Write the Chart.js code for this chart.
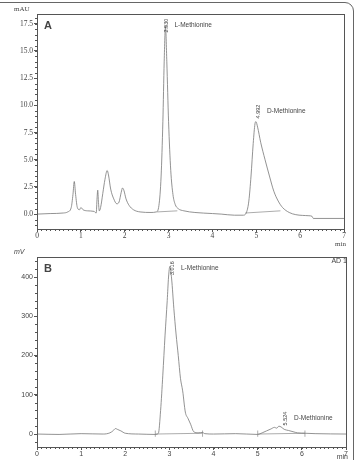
<!DOCTYPE html>
<html>
<head>
<meta charset="utf-8">
<script src="https://cdn.jsdelivr.net/npm/chart.js@4.4.0/dist/chart.umd.min.js"></script>
<style>
body { margin: 0; background: #fff; width: 356px; height: 460px; overflow: hidden; position: relative; }
#frame { position: absolute; left: -12px; top: 2px; width: 366px; height: 470px; border: 1px solid #666; border-radius: 9px; box-sizing: border-box; }
#wrapA { position: absolute; left: 0; top: 0; }
#wrapB { position: absolute; left: 0; top: 248px; }
</style>
</head>
<body>
<div id="frame"></div>
<div id="wrapA"><canvas id="chartA" width="356" height="250"></canvas></div>
<div id="wrapB"><canvas id="chartB" width="356" height="212"></canvas></div>
<script>
// panel A - UV trace (mAU)
var timeA = [0, 0.3, 0.6, 0.7, 0.78, 0.82, 0.85, 0.88, 0.92, 0.97, 1.0, 1.05, 1.15, 1.3, 1.35, 1.37, 1.385, 1.4, 1.42, 1.45,
  1.5, 1.55, 1.6, 1.63, 1.68, 1.75, 1.82, 1.87, 1.92, 1.95, 1.98, 2.03, 2.1, 2.2, 2.35, 2.6, 2.72, 2.78, 2.83, 2.87,
  2.9, 2.93, 2.96, 3.0, 3.05, 3.1, 3.15, 3.22, 3.35, 3.6, 4.0, 4.2, 4.5, 4.7, 4.78, 4.83, 4.88, 4.93, 4.97, 4.99,
  5.03, 5.1, 5.2, 5.3, 5.4, 5.5, 5.6, 5.75, 5.9, 6.2, 6.27, 6.3, 7.0];
var signalA = [0, 0.05, 0.1, 0.2, 0.6, 1.8, 3.0, 1.8, 0.6, 0.4, 0.6, 0.4, 0.3, 0.25, 0.1, 1.5, 2.2, 1.2, 0.3, 0.6,
  1.9, 3.2, 4.0, 3.6, 2.3, 1.4, 0.95, 1.1, 2.0, 2.4, 2.2, 1.4, 0.8, 0.4, 0.2, 0.15, 0.2, 0.8, 3.5, 8.5,
  14, 17.3, 14, 8.5, 4.0, 1.8, 0.9, 0.5, 0.3, 0.15, 0.05, 0, -0.1, -0.1, 0.2, 1.2, 3.5, 6.5, 8.3, 8.5,
  8.0, 6.6, 5.0, 3.5, 2.1, 1.2, 0.6, 0.15, -0.05, -0.15, -0.2, -0.4, -0.4];
var baseA1 = [[2.74, 0.2], [3.2, 0.3]];
var baseA2 = [[4.75, 0.1], [5.55, 0.3]];
var yTicksA = [0, 2.5, 5, 7.5, 10, 12.5, 15, 17.5];
var peaksA = [
  { t: 2.95, v: 16.7, rt: '2.930', name: 'L-Methionine' },
  { t: 5.06, v: 8.8, rt: '4.992', name: 'D-Methionine' }
];

// panel B - detector trace (mV)
var timeB = [0, 0.5, 1.0, 1.5, 1.65, 1.72, 1.78, 1.82, 1.9, 2.0, 2.3, 2.68, 2.75, 2.8, 2.85, 2.9, 2.95, 2.98, 3.01, 3.05,
  3.1, 3.15, 3.2, 3.25, 3.3, 3.36, 3.42, 3.48, 3.55, 3.65, 3.75, 3.8, 4.0, 4.5, 5.0, 5.1, 5.2, 5.3, 5.38, 5.43,
  5.48, 5.53, 5.6, 5.7, 5.8, 5.9, 6.07, 6.3, 7.0];
var signalB = [0, -1, 1, 0, 3, 8, 14, 12, 8, 2, 0, -1, 2, 60, 150, 250, 340, 400, 427, 395,
  320, 255, 200, 142, 110, 56, 40, 25, 6, 3, 4, 1, 0, 1, -1, 3, 8, 13, 17, 15,
  20, 18, 12, 9, 6, 3, 2, 1, 0];
var baseB1 = [[2.68, 0], [3.75, 2]];
var baseB2 = [[5.0, 0], [6.07, 2]];
var marksB = [2.68, 3.75, 5.0, 6.07];
var yTicksB = [0, 100, 200, 300, 400];
var peaksB = [
  { t: 3.08, v: 405, rt: '3.016', name: 'L-Methionine' },
  { t: 5.64, v: 22, rt: '5.524', name: 'D-Methionine' }
];

function pairs(xs, ys) { return xs.map(function (x, i) { return { x: x, y: ys[i] }; }); }
function seg(p) { return p.map(function (q) { return { x: q[0], y: q[1] }; }); }

var decor = {
  id: 'decor',
  afterDraw: function (chart, args, o) {
    var c = chart.ctx, a = chart.chartArea, xs = chart.scales.x, ys = chart.scales.y;
    c.save();
    c.strokeStyle = '#555';
    c.lineWidth = 1;
    c.strokeRect(Math.round(a.left) + 0.5, Math.round(a.top) + 0.5, Math.round(a.right - a.left), Math.round(a.bottom - a.top));
    // minor ticks
    c.beginPath();
    for (var k = Math.ceil(xs.min / o.xMinor); k * o.xMinor <= xs.max + 1e-9; k++) {
      var v = k * o.xMinor, px = Math.round(xs.getPixelForValue(v)) + 0.5;
      c.moveTo(px, a.bottom); c.lineTo(px, a.bottom + 2);
    }
    for (var j = Math.ceil(ys.min / o.yMinor); j * o.yMinor <= ys.max + 1e-9; j++) {
      var w = j * o.yMinor, py = Math.round(ys.getPixelForValue(w)) + 0.5;
      c.moveTo(a.left, py); c.lineTo(a.left - 2, py);
    }
    c.stroke();
    c.fillStyle = '#444';
    // units
    c.font = o.unitFont;
    c.textAlign = 'left'; c.textBaseline = 'middle';
    c.fillText(o.unit, 14, a.top - 5);
    c.font = o.tickFont;
    c.textAlign = 'right';
    c.fillText('min', a.right + 2, a.bottom + o.minDy);
    // panel letter
    c.font = 'bold 11px "Liberation Sans", Arial, sans-serif';
    c.textAlign = 'left';
    c.fillText(o.letter, a.left + 7, a.top + 12);
    if (o.corner) {
      c.font = '7px "Liberation Sans", Arial, sans-serif';
      c.textAlign = 'right';
      c.fillText(o.corner, a.right + 1, a.top + 4);
    }
    // peak labels
    o.peaks.forEach(function (p) {
      var px = xs.getPixelForValue(p.t), py = ys.getPixelForValue(p.v);
      c.save();
      c.translate(px, py);
      c.rotate(-Math.PI / 2);
      c.font = '5.5px "Liberation Sans", Arial, sans-serif';
      c.textAlign = 'left'; c.textBaseline = 'middle';
      c.fillText(p.rt, 0, 0);
      c.restore();
      c.font = '6.5px "Liberation Sans", Arial, sans-serif';
      c.textAlign = 'left'; c.textBaseline = 'middle';
      c.fillText(p.name, px + 8, py - 7);
    });
    c.restore();
  }
};

function makePanel(id, datasets, cfg) {
  return new Chart(document.getElementById(id), {
    type: 'line',
    data: { datasets: datasets },
    plugins: [decor],
    options: {
      responsive: false,
      animation: false,
      events: [],
      layout: { padding: { top: cfg.padTop, right: cfg.padRight, left: 0, bottom: 0 } },
      elements: { point: { radius: 0 }, line: { borderWidth: 0.8, borderColor: '#777' } },
      plugins: { legend: { display: false }, tooltip: { enabled: false }, decor: cfg.decor },
      scales: {
        x: {
          type: 'linear', min: 0, max: 7,
          afterFit: function (s) { s.height = cfg.xHeight; },
          border: { color: '#555' },
          grid: { drawOnChartArea: false, tickLength: 3, color: '#555' },
          ticks: { stepSize: 1, padding: 0, color: '#444', font: cfg.tickFontObj, maxRotation: 0 }
        },
        y: {
          min: cfg.yMin, max: cfg.yMax,
          afterFit: function (s) { s.width = 37; },
          afterBuildTicks: function (s) { s.ticks = cfg.yTicks.map(function (v) { return { value: v }; }); },
          border: { color: '#555' },
          grid: { drawOnChartArea: false, tickLength: 3, color: '#555' },
          ticks: { padding: 1, color: '#444', font: cfg.tickFontObj, callback: cfg.yFmt }
        }
      }
    }
  });
}

var lineStyle = { borderColor: '#777', borderWidth: 0.8, pointRadius: 0, cubicInterpolationMode: 'monotone' };
var baseStyle = { borderColor: '#888', borderWidth: 0.7, pointRadius: 0 };

makePanel('chartA', [
  Object.assign({ data: pairs(timeA, signalA) }, lineStyle),
  Object.assign({ data: seg(baseA1) }, baseStyle),
  Object.assign({ data: seg(baseA2) }, baseStyle)
], {
  padTop: 14, padRight: 12, xHeight: 21, yMin: -1.37, yMax: 18.4, yTicks: yTicksA,
  yFmt: function (v) { return v.toFixed(1); },
  tickFontObj: { family: '"Liberation Serif", serif', size: 7.5 },
  decor: { xMinor: 0.1, yMinor: 0.5, unit: 'mAU', unitFont: '7px "Liberation Serif", serif',
    tickFont: '7px "Liberation Serif", serif', letter: 'A', peaks: peaksA, minDy: 15 }
});

var dsB = [
  Object.assign({ data: pairs(timeB, signalB) }, lineStyle),
  Object.assign({ data: seg(baseB1) }, baseStyle),
  Object.assign({ data: seg(baseB2) }, baseStyle)
];
marksB.forEach(function (t) {
  dsB.push(Object.assign({ data: [{ x: t, y: -7 }, { x: t, y: 9 }] }, baseStyle));
});

makePanel('chartB', dsB, {
  padTop: 9, padRight: 10, xHeight: 13, yMin: -33, yMax: 451, yTicks: yTicksB,
  yFmt: function (v) { return v; },
  tickFontObj: { family: '"Liberation Sans", Arial, sans-serif', size: 7 },
  decor: { xMinor: 0.1, yMinor: 20, unit: 'mV', unitFont: 'italic 7px "Liberation Sans", Arial, sans-serif',
    tickFont: '7px "Liberation Sans", Arial, sans-serif', letter: 'B', corner: 'AD 1', peaks: peaksB, minDy: 10 }
});
</script>
</body>
</html>
